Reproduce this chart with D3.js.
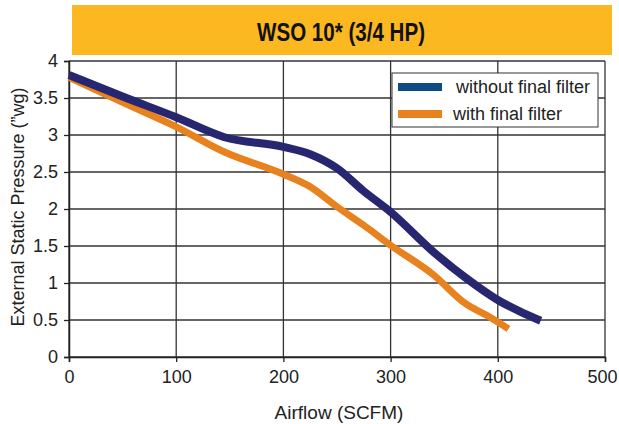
<!DOCTYPE html>
<html><head><meta charset="utf-8">
<script src="https://cdn.jsdelivr.net/npm/d3@7"></script>
<style>body{margin:0;background:#fff}svg{display:block}</style>
</head><body>
<svg id="c" width="619" height="424"></svg>
<script>
const title = "WSO 10* (3/4 HP)";
const xTicks = [0,100,200,300,400,500];
const yTicks = [0,0.5,1,1.5,2,2.5,3,3.5,4];
const seriesNames = ["without final filter","with final filter"];
const xNoFilter = [0,50,100,145,200,225,250,275,300,340,370,400,420,440];
const yNoFilter = [3.81,3.52,3.24,2.97,2.84,2.74,2.55,2.24,1.96,1.42,1.07,0.77,0.62,0.49];
const xFilter = [0,50,100,145,200,225,250,275,300,340,370,390,410];
const yFilter = [3.78,3.44,3.11,2.77,2.47,2.30,2.03,1.78,1.51,1.11,0.72,0.56,0.38];

const svg = d3.select("#c");
const L=69,R=605,T=61,B=357;
const x = d3.scaleLinear().domain([0,500]).range([L,R]);
const y = d3.scaleLinear().domain([0,4]).range([B,T]);
const font = "'Liberation Sans', Arial, sans-serif";

// title banner
svg.append("rect").attr("x",72).attr("y",5).attr("width",540).attr("height",50).attr("fill","#fbb820");
svg.append("text").attr("x",341).attr("y",41).attr("text-anchor","middle")
  .attr("font-family","'Liberation Sans Narrow','Liberation Sans',sans-serif")
  .attr("font-weight","bold").attr("font-size",25).attr("fill","#111")
  .attr("textLength",168).attr("lengthAdjust","spacingAndGlyphs").text(title);

// grid
const g = svg.append("g");
g.selectAll("line.h").data(yTicks).join("line").attr("x1",L).attr("x2",R)
  .attr("y1",d=>y(d)).attr("y2",d=>y(d)).attr("stroke","#333").attr("stroke-width",1.3);
g.selectAll("line.v").data(xTicks).join("line").attr("y1",T).attr("y2",B)
  .attr("x1",d=>x(d)).attr("x2",d=>x(d)).attr("stroke","#333").attr("stroke-width",1.3);

// axes
const ya = svg.append("g").attr("transform",`translate(${L},0)`)
  .call(d3.axisLeft(y).tickValues(yTicks).tickSize(5).tickPadding(6).tickFormat(d3.format("")));
const xa = svg.append("g").attr("transform",`translate(0,${B})`)
  .call(d3.axisBottom(x).tickValues(xTicks).tickSize(5).tickPadding(8).tickFormat(d3.format("")));
[ya,xa].forEach(a=>{
  a.select(".domain").attr("stroke","#222").attr("stroke-width",1.5);
  a.selectAll(".tick line").attr("stroke","#222").attr("stroke-width",1.3);
  a.selectAll("text").attr("font-family",font).attr("font-size",18).attr("fill","#222");
});
xa.selectAll(".tick text").filter(d=>d===500).attr("text-anchor","end").attr("dx",12);

// lines
const line = d3.line().x(d=>x(d[0])).y(d=>y(d[1])).curve(d3.curveMonotoneX);
svg.append("path").datum(xFilter.map((v,i)=>[v,yFilter[i]])).attr("d",line)
  .attr("fill","none").attr("stroke","#e8821e").attr("stroke-width",7);
svg.append("path").datum(xNoFilter.map((v,i)=>[v,yNoFilter[i]])).attr("d",line)
  .attr("fill","none").attr("stroke","#262671").attr("stroke-width",8);

// legend
const lg = svg.append("g");
lg.append("rect").attr("x",392).attr("y",73).attr("width",206).attr("height",54)
  .attr("fill","#fff").attr("stroke","#333").attr("stroke-width",1);
const legColors = ["#0e4a85","#e8821e"];
seriesNames.forEach((n,i)=>{
  const yy = 87 + i*27;
  lg.append("rect").attr("x",398).attr("y",yy-4).attr("width",44).attr("height",8).attr("fill",legColors[i]);
  lg.append("text").attr("x",i===0?456:453).attr("y",yy+5.5).attr("font-family",font)
    .attr("font-size",18).attr("fill","#222").text(n);
});

// axis titles
svg.append("text").attr("x",339).attr("y",419).attr("text-anchor","middle")
  .attr("font-family",font).attr("font-size",19).attr("fill","#222").text("Airflow (SCFM)");
svg.append("text").attr("transform","translate(24,207) rotate(-90)").attr("text-anchor","middle")
  .attr("font-family",font).attr("font-size",18).attr("fill","#222").text("External Static Pressure (”wg)");
</script>
</body></html>
